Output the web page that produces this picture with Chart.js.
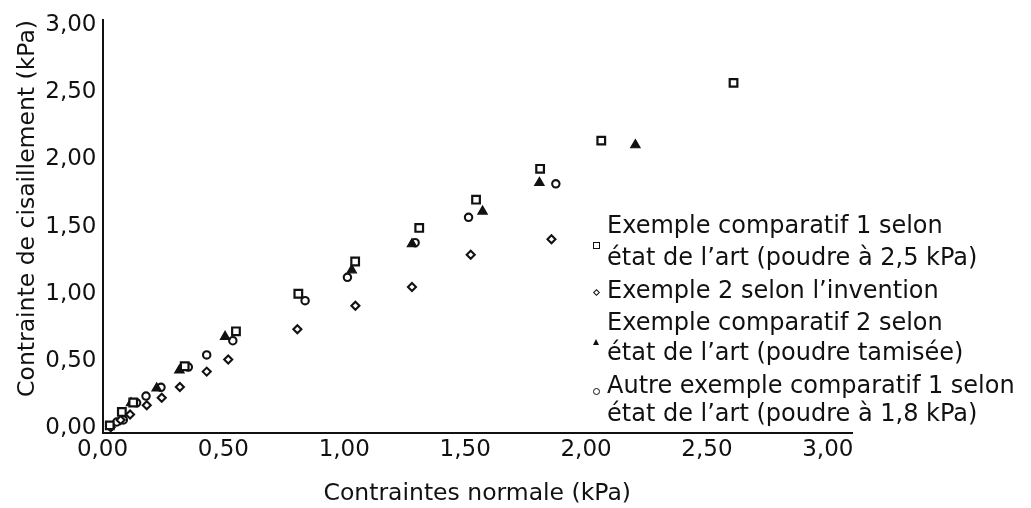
<!DOCTYPE html>
<html>
<head>
<meta charset="utf-8">
<script src="https://cdn.jsdelivr.net/npm/chart.js@4/dist/chart.umd.min.js"></script>
<style>
  html, body { margin: 0; padding: 0; background: #fff; }
  #wrap { position: relative; width: 1031px; height: 508px; }
  #legend { position: absolute; left: 0; top: 0; width: 1031px; height: 508px; pointer-events: none;
            font-family: 'DejaVu Sans', sans-serif; font-size: 24px; line-height: 24px; color: #111; }
  .lt { position: absolute; left: 607px; white-space: nowrap; }
  .mk { position: absolute; box-sizing: border-box; }
</style>
</head>
<body>
<div id="wrap">
  <canvas id="c"></canvas>
  <div id="legend"></div>
</div>
<script>
// ---- data ----
const tickValues = [0, 0.5, 1, 1.5, 2, 2.5, 3];
const tickLabels = ['0,00', '0,50', '1,00', '1,50', '2,00', '2,50', '3,00'];

const xTitle = 'Contraintes normale (kPa)';
const yTitle = 'Contrainte de cisaillement (kPa)';

const seriesNames = [
  ['Exemple comparatif 1 selon', 'état de l\u2019art (poudre à 2,5 kPa)'],
  ['Exemple 2 selon l\u2019invention'],
  ['Exemple comparatif 2 selon', 'état de l\u2019art (poudre tamisée)'],
  ['Autre exemple comparatif 1 selon', 'état de l\u2019art (poudre à 1,8 kPa)']
];

// Exemple comparatif 1 (squares)
const comp1X = [0.03, 0.08, 0.127, 0.34, 0.552, 0.81, 1.045, 1.31, 1.545, 1.81, 2.063, 2.61];
const comp1Y = [0.02, 0.12, 0.19, 0.46, 0.72, 1.00, 1.24, 1.49, 1.70, 1.93, 2.14, 2.57];
// Exemple 2 selon l'invention (diamonds)
const inv2X = [0.034, 0.075, 0.114, 0.183, 0.245, 0.32, 0.431, 0.52, 0.806, 1.046, 1.28, 1.523, 1.857];
const inv2Y = [0.005, 0.06, 0.10, 0.17, 0.225, 0.305, 0.42, 0.51, 0.735, 0.91, 1.05, 1.29, 1.405];
// Exemple comparatif 2 (filled triangles)
const comp2X = [0.118, 0.224, 0.318, 0.507, 1.031, 1.28, 1.572, 1.807, 2.204];
const comp2Y = [0.186, 0.296, 0.43, 0.68, 1.176, 1.37, 1.613, 1.826, 2.107];
// Autre exemple comparatif 1 (circles)
const other1X = [0.059, 0.086, 0.141, 0.18, 0.242, 0.355, 0.431, 0.539, 0.838, 1.013, 1.293, 1.514, 1.875];
const other1Y = [0.045, 0.06, 0.188, 0.238, 0.303, 0.454, 0.544, 0.65, 0.948, 1.122, 1.38, 1.569, 1.818];

function pts(xs, ys) { return xs.map((x, i) => ({ x: x, y: ys[i] })); }

const FONT = "'DejaVu Sans', sans-serif";
Chart.defaults.font.family = FONT;
Chart.defaults.color = '#111';

const fixTicks = (axis) => { axis.ticks = tickValues.map(v => ({ value: v })); };
const fmt = (value, index) => tickLabels[index];

new Chart(document.getElementById('c'), {
  type: 'scatter',
  data: {
    datasets: [
      { label: seriesNames[0].join(' '), data: pts(comp1X, comp1Y), pointStyle: 'rect', pointRadius: 5.4,
        borderColor: '#111', backgroundColor: '#fff', borderWidth: 2.2 },
      { label: seriesNames[1].join(' '), data: pts(inv2X, inv2Y), pointStyle: 'rectRot', pointRadius: 4,
        borderColor: '#111', backgroundColor: '#fff', borderWidth: 2.1 },
      { label: seriesNames[2].join(' '), data: pts(comp2X, comp2Y), pointStyle: 'triangle', pointRadius: 5.4,
        borderColor: '#111', backgroundColor: '#111', borderWidth: 1.2 },
      { label: seriesNames[3].join(' '), data: pts(other1X, other1Y), pointStyle: 'circle', pointRadius: 3.7,
        borderColor: '#111', backgroundColor: '#fff', borderWidth: 2.1 }
    ]
  },
  options: {
    responsive: true,
    maintainAspectRatio: false,
    animation: false,
    events: [],
    clip: false,
    layout: { padding: { left: 0, right: 179, top: 20, bottom: 0 } },
    plugins: { legend: { display: false }, tooltip: { enabled: false } },
    scales: {
      x: {
        type: 'linear', min: 0, max: 3.10,
        afterBuildTicks: fixTicks,
        afterFit: (s) => { s.height = 75; },
        grid: { display: false, drawTicks: false },
        border: { display: true, color: '#111', width: 2 },
        ticks: { callback: fmt, font: { size: 23 }, padding: 3, maxRotation: 0, autoSkip: false, color: '#111' },
        title: { display: true, text: xTitle, font: { size: 23.5 }, padding: { top: 0, bottom: 0 }, color: '#111' }
      },
      y: {
        type: 'linear', min: -0.037, max: 3.038,
        afterBuildTicks: fixTicks,
        afterFit: (s) => { s.width = 102.5; },
        grid: { display: false, drawTicks: false },
        border: { display: true, color: '#111', width: 2 },
        ticks: { callback: fmt, font: { size: 23 }, padding: 6, autoSkip: false, color: '#111' },
        title: { display: true, text: yTitle, align: 'end', font: { size: 23.5 }, padding: { top: 14, bottom: 0 }, color: '#111' }
      }
    }
  }
});

// ---- legend (HTML text) ----
const legend = document.getElementById('legend');
const baselines = [[233, 265], [298], [330, 360], [393, 421]];
const markers = [
  { y: 245, w: 7, h: 7, css: 'border:1.7px solid #111;background:#fff;' },
  { y: 292, w: 5, h: 5, css: 'border:1.6px solid #111;background:#fff;transform:rotate(45deg);' },
  { y: 342, w: 7, h: 6, css: 'width:0;height:0;border-left:3.5px solid transparent;border-right:3.5px solid transparent;border-bottom:6px solid #111;' },
  { y: 391, w: 7, h: 7, css: 'border:1.7px solid #111;border-radius:50%;background:#fff;' }
];
seriesNames.forEach((lines, i) => {
  lines.forEach((t, j) => {
    const d = document.createElement('div');
    d.className = 'lt';
    d.style.top = (baselines[i][j] - 20.3) + 'px';
    d.textContent = t;
    legend.appendChild(d);
  });
  const mk = markers[i];
  const m = document.createElement('div');
  m.className = 'mk';
  m.style.cssText += 'width:' + mk.w + 'px;height:' + mk.h + 'px;' + mk.css;
  m.style.left = (596 - mk.w / 2) + 'px';
  m.style.top = (mk.y - mk.h / 2) + 'px';
  legend.appendChild(m);
});
</script>
</body>
</html>
